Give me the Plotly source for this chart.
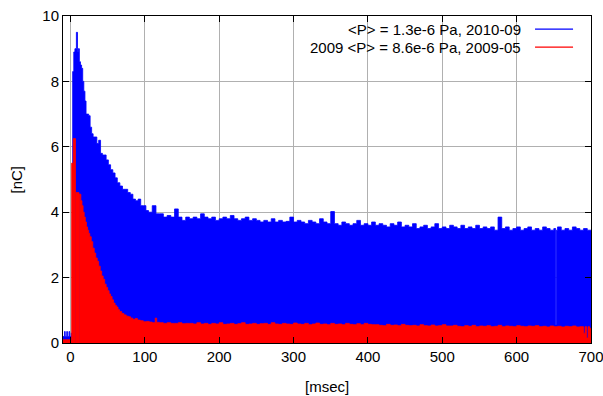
import numpy as np
import plotly.graph_objects as go

# ---------------- data (ms, nC) ----------------
# blue series: <P> = 1.3e-6 Pa, 2010-09 (upper envelope of the dense impulses)
blue_early_t = [-10, -8, -7, -5, -4, -2, -1, 1, 3, 4.5, 6, 8, 9.5, 10.5, 12, 13.5, 15, 16.5,
                18, 19.5, 21, 22.5, 24.5, 26.5, 28.5, 30.5, 33, 35.5, 38, 40.5, 43, 45.5, 48,
                51, 54, 57, 60, 63, 66.5, 70, 73.5, 77, 80.5, 84, 87.5, 91, 94.5, 98, 101.5]
blue_early_v = [0.2, 0.35, 0.2, 0.35, 0.2, 0.35, 0.2, 0.3, 8.3, 8.9, 9.0, 9.5, 8.9, 9.0, 8.6, 8.5,
                8.4, 8.0, 7.7, 7.4, 7.0, 7.0, 6.95, 6.6, 6.4, 6.3, 6.3, 6.1, 6.2, 5.8, 5.75, 5.75,
                5.6, 5.45, 5.3, 5.2, 5.05, 4.9, 4.8, 4.7, 4.7, 4.6, 4.55, 4.4, 4.35, 4.4, 4.2,
                4.2, 4.05]
blue_plateau_t = list(range(105, 700, 5))
blue_plateau_v = [4.0, 4.2, 3.95, 3.95, 3.85, 3.9, 3.85, 4.1, 3.85, 3.75,
                  3.85, 3.8, 3.85, 3.8, 3.95, 3.85, 3.8, 3.85, 3.75, 3.8,
                  3.85, 3.8, 3.9, 3.8, 3.75, 3.8, 3.85, 3.75, 3.8, 3.75,
                  3.7, 3.75, 3.7, 3.8, 3.7, 3.75, 3.7, 3.72, 3.85, 3.7,
                  3.75, 3.7, 3.65, 3.75, 3.7, 3.65, 3.8, 3.7, 3.65,
                  4.02, 3.65, 3.6, 3.7, 3.65, 3.6, 3.65, 3.75, 3.6, 3.65, 3.6,
                  3.7, 3.6, 3.65, 3.6, 3.55, 3.65, 3.6, 3.7, 3.55, 3.6,
                  3.55, 3.65, 3.5, 3.55, 3.6, 3.5, 3.55, 3.65, 3.5, 3.55,
                  3.5, 3.6, 3.55, 3.5, 3.6, 3.5, 3.55, 3.5, 3.6, 3.5,
                  3.55, 3.5, 3.55, 3.45, 3.85, 3.5, 3.55, 3.45, 3.5, 3.55,
                  3.45, 3.5, 3.55, 3.45, 3.5, 3.45, 3.55, 3.5, 3.45, 3.5,
                  3.55, 3.45, 3.5, 3.45, 3.55, 3.5, 3.45, 3.5, 3.45]
blue_extra_t = [652.5, 653.5, 700]
blue_extra_v = [0.55, 3.45, 3.45]

# red series: 2009 <P> = 8.6e-6 Pa, 2009-05
red_early_t = [-10, 1.6, 3.8, 6.8, 7.5, 11.5, 12.2, 14, 15.5, 17, 18.5, 20, 21.5, 23, 24.5, 26,
               28, 30, 32, 34, 36, 38, 40, 42, 44, 46, 48, 50, 52, 54, 56, 58, 60, 62, 64, 66,
               69, 72, 75, 78, 81, 84, 87, 90, 94, 98, 102, 106, 110, 114, 116, 120, 125, 130,
               135, 140, 145, 150, 155]
red_early_v = [0.1, 5.5, 6.25, 0.0, 4.6, 0.0, 4.55, 4.35, 4.2, 4.0, 3.85, 3.7, 3.55, 3.45, 3.35,
               3.25, 3.1, 2.9, 2.75, 2.6, 2.5, 2.35, 2.2, 2.05, 1.95, 1.8, 1.7, 1.6, 1.5, 1.42,
               1.32, 1.22, 1.15, 1.1, 1.02, 0.96, 0.9, 0.86, 0.82, 0.8, 0.76, 0.72, 0.75, 0.7,
               0.68, 0.65, 0.66, 0.64, 0.62, 0.76, 0.63, 0.62, 0.6, 0.62, 0.6, 0.6, 0.62, 0.59,
               0.6]
red_plateau_t = list(range(160, 690, 5))
red_plateau_v = [0.6, 0.58, 0.62, 0.58, 0.6, 0.57, 0.6, 0.58, 0.62, 0.57,
                 0.58, 0.6, 0.57, 0.59, 0.62, 0.57, 0.58, 0.6, 0.57, 0.59,
                 0.6, 0.57, 0.62, 0.58, 0.57, 0.6, 0.58, 0.57, 0.61, 0.58,
                 0.57, 0.6, 0.56, 0.58, 0.61, 0.57, 0.58, 0.56, 0.6, 0.57,
                 0.58, 0.56, 0.6, 0.57, 0.56, 0.59, 0.56, 0.6, 0.57, 0.56,
                 0.56, 0.54, 0.53, 0.57, 0.54, 0.55, 0.53, 0.57, 0.54, 0.53,
                 0.54, 0.52, 0.56, 0.53, 0.52, 0.55, 0.52, 0.53, 0.56, 0.52,
                 0.52, 0.54, 0.51, 0.5, 0.53, 0.51, 0.54, 0.5, 0.52, 0.51,
                 0.53, 0.5, 0.51, 0.54, 0.5, 0.52, 0.51, 0.5, 0.53, 0.51,
                 0.5, 0.52, 0.51, 0.53, 0.5, 0.51, 0.49, 0.52, 0.5, 0.51,
                 0.49, 0.51, 0.5, 0.52, 0.49, 0.5]
red_tail_t = [690, 692, 694, 696, 698, 700]
red_tail_v = [0.3, 0.5, 0.15, 0.5, 0.45, 0.45]

legend_labels = ["<P> = 1.3e-6 Pa, 2010-09", "2009 <P> = 8.6e-6 Pa, 2009-05"]
x_ticks = [0, 100, 200, 300, 400, 500, 600, 700]
y_ticks = [0, 2, 4, 6, 8, 10]

# ---------------- assemble ----------------
def merge(*pairs):
    t, v = [], []
    for tt, vv in pairs:
        t += list(tt)
        v += list(vv)
    order = np.argsort(np.array(t, dtype=float), kind="stable")
    return np.array(t, dtype=float)[order], np.array(v, dtype=float)[order]

bt, bv = merge((blue_early_t, blue_early_v), (blue_plateau_t, blue_plateau_v),
               (blue_extra_t, blue_extra_v))
rt, rv = merge((red_early_t, red_early_v), (red_plateau_t, red_plateau_v),
               (red_tail_t, red_tail_v))

BLUE = "#0000ff"
RED = "#ff0000"
FONT = "Liberation Sans, Arial, Helvetica, sans-serif"
FS = 15

fig = go.Figure()
fig.add_trace(go.Scatter(x=bt, y=bv, mode="lines", line=dict(color=BLUE, width=0.8, shape="hv"),
                         fill="tozeroy", fillcolor=BLUE, name=legend_labels[0], showlegend=False))
fig.add_trace(go.Scatter(x=rt, y=rv, mode="lines", line=dict(color=RED, width=0.8, shape="hv"),
                         fill="tozeroy", fillcolor=RED, name=legend_labels[1], showlegend=False))

axis_common = dict(showline=True, linecolor="black", linewidth=1, mirror="ticks",
                   ticks="inside", ticklen=6, tickcolor="black", showgrid=True,
                   gridcolor="#b0b0b0", gridwidth=1, zeroline=False, automargin=False,
                   ticklabeloverflow="allow",
                   tickfont=dict(family=FONT, size=FS, color="black"))

fig.update_xaxes(range=[-10, 700], tickvals=x_ticks, **axis_common)
fig.update_yaxes(range=[0, 10], tickvals=y_ticks, **axis_common)

# axis titles
fig.add_annotation(x=0.5, y=-0.132, xref="paper", yref="paper", text="[msec]", showarrow=False,
                   xanchor="center", yanchor="middle", borderpad=0,
                   font=dict(family=FONT, size=FS, color="black"))
fig.add_annotation(x=-0.089, y=0.5, xref="paper", yref="paper", text="[nC]", showarrow=False,
                   textangle=-90, xanchor="center", yanchor="middle",
                   font=dict(family=FONT, size=FS, color="black"))

# gnuplot-style key: text right-aligned, sample line to its right
key_rows = [(legend_labels[0], BLUE, 0.960), (legend_labels[1], RED, 0.905)]
for label, col, yy in key_rows:
    fig.add_annotation(x=0.872, y=yy, xref="paper", yref="paper", text=label, showarrow=False,
                       xanchor="right", yanchor="middle",
                       font=dict(family=FONT, size=FS, color="black"))
    fig.add_shape(type="line", xref="paper", yref="paper", x0=0.894, x1=0.966, y0=yy, y1=yy,
                  line=dict(color=col, width=1.2))

fig.update_layout(width=603, height=396, margin=dict(l=63, r=12, t=16, b=53),
                  plot_bgcolor="white", paper_bgcolor="white", showlegend=False,
                  font=dict(family=FONT, size=FS, color="black"))

fig.write_html("out.html", config={"displayModeBar": False},
               post_script="document.body.style.margin='0';"
                           "document.body.style.overflow='hidden';")
